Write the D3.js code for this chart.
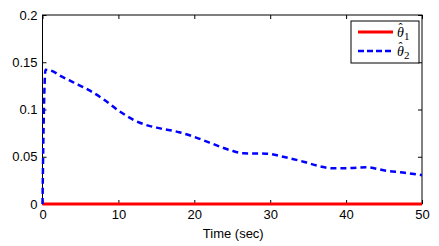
<!DOCTYPE html>
<html>
<head>
<meta charset="utf-8">
<script src="https://cdn.jsdelivr.net/npm/d3@7"></script>
<style>
  body { margin: 0; background: #fff; }
  svg text { font-family: "Liberation Sans", Arial, sans-serif; font-size: 13px; fill: #000; }
  .axis path { display: none; }
  .axis line { stroke: #000; stroke-width: 1; }
</style>
</head>
<body>
<script>
var width = 439, height = 246;

// data
var time = [0, 0.1, 0.25, 0.4, 1, 2.5, 4, 6, 8, 10, 12, 13.5, 15.5, 18, 20, 22, 24.7, 26.5, 29.5, 31.7, 34.5, 36.5, 38.2, 40.5, 42.7, 45.3, 47.5, 50];
var theta2 = [0, 0.06, 0.12, 0.142, 0.1415, 0.135, 0.129, 0.121, 0.111, 0.099, 0.089, 0.084, 0.080, 0.076, 0.071, 0.065, 0.057, 0.0536, 0.0533, 0.050, 0.0445, 0.040, 0.0378, 0.038, 0.0388, 0.0352, 0.0333, 0.0305];
var theta1 = [0, 0];
var theta1Time = [0, 50];
var xTicks = [0, 10, 20, 30, 40, 50];
var yTicks = [0, 0.05, 0.1, 0.15, 0.2];
var yTickLabels = ["0", "0.05", "0.1", "0.15", "0.2"];

var mLeft = 42.5, mRight = 422, mTop = 15, mBottom = 204;

var svg = d3.select("body").append("svg")
    .attr("width", width)
    .attr("height", height);

var x = d3.scaleLinear().domain([0, 50]).range([mLeft, mRight]);
var y = d3.scaleLinear().domain([0, 0.2]).range([mBottom, mTop]);

// axes, ticks pointing inward
svg.append("g")
    .attr("class", "axis")
    .attr("transform", "translate(0," + mBottom + ")")
    .call(d3.axisBottom(x).tickValues(xTicks).tickSizeInner(-4).tickSizeOuter(0).tickPadding(6));

svg.append("g")
    .attr("class", "axis")
    .attr("transform", "translate(" + mLeft + ",0)")
    .call(d3.axisLeft(y).tickValues(yTicks).tickSizeInner(-4).tickSizeOuter(0).tickPadding(5)
      .tickFormat(function(d, i){ return yTickLabels[i]; }));

svg.append("g")
    .attr("class", "axis")
    .attr("transform", "translate(0," + mTop + ")")
    .call(d3.axisTop(x).tickValues(xTicks).tickSizeInner(-4).tickSizeOuter(0).tickFormat(""));

svg.append("g")
    .attr("class", "axis")
    .attr("transform", "translate(" + mRight + ",0)")
    .call(d3.axisRight(y).tickValues(yTicks).tickSizeInner(-4).tickSizeOuter(0).tickFormat(""));

// frame
svg.append("rect")
    .attr("x", mLeft).attr("y", mTop)
    .attr("width", mRight - mLeft).attr("height", mBottom - mTop)
    .attr("fill", "none").attr("stroke", "#000").attr("stroke-width", 1);

var line = d3.line()
    .x(function(d){ return x(d[0]); })
    .y(function(d){ return y(d[1]); })
    .curve(d3.curveMonotoneX);

svg.append("path")
    .attr("d", line(d3.zip(theta1Time, theta1)))
    .attr("fill", "none")
    .attr("stroke", "#ff0000")
    .attr("stroke-width", 3);

svg.append("path")
    .attr("d", line(d3.zip(time, theta2)))
    .attr("fill", "none")
    .attr("stroke", "#0000ff")
    .attr("stroke-width", 2.5)
    .attr("stroke-dasharray", "6,4");

svg.append("text")
    .attr("x", (mLeft + mRight) / 2 + 1)
    .attr("y", 238)
    .attr("text-anchor", "middle")
    .text("Time (sec)");

// legend
var lg = svg.append("g");
lg.append("rect")
    .attr("x", 351).attr("y", 21).attr("width", 68).attr("height", 42)
    .attr("fill", "#fff").attr("stroke", "#000").attr("stroke-width", 1);

var entries = [{c: "#ff0000", dash: null, sub: "1"}, {c: "#0000ff", dash: "6,3", sub: "2"}];
entries.forEach(function(e, i){
  var yy = 32 + i * 19;
  lg.append("line")
      .attr("x1", 358).attr("x2", 393).attr("y1", yy).attr("y2", yy)
      .attr("stroke", e.c).attr("stroke-width", e.dash ? 2.5 : 3)
      .attr("stroke-dasharray", e.dash);
  var t = lg.append("text")
      .attr("x", 397).attr("y", yy + 5)
      .style("font-family", "'Liberation Serif', 'Times New Roman', serif")
      .style("font-size", "14px");
  t.append("tspan").style("font-style", "italic").text("\u03B8");
  t.append("tspan").attr("dy", 3).style("font-size", "11px").text(e.sub);
  // hat over theta
  t.append("tspan").attr("x", 398.5).attr("dy", -8).style("font-size", "12px").text("\u02C6");
});
</script>
</body>
</html>
